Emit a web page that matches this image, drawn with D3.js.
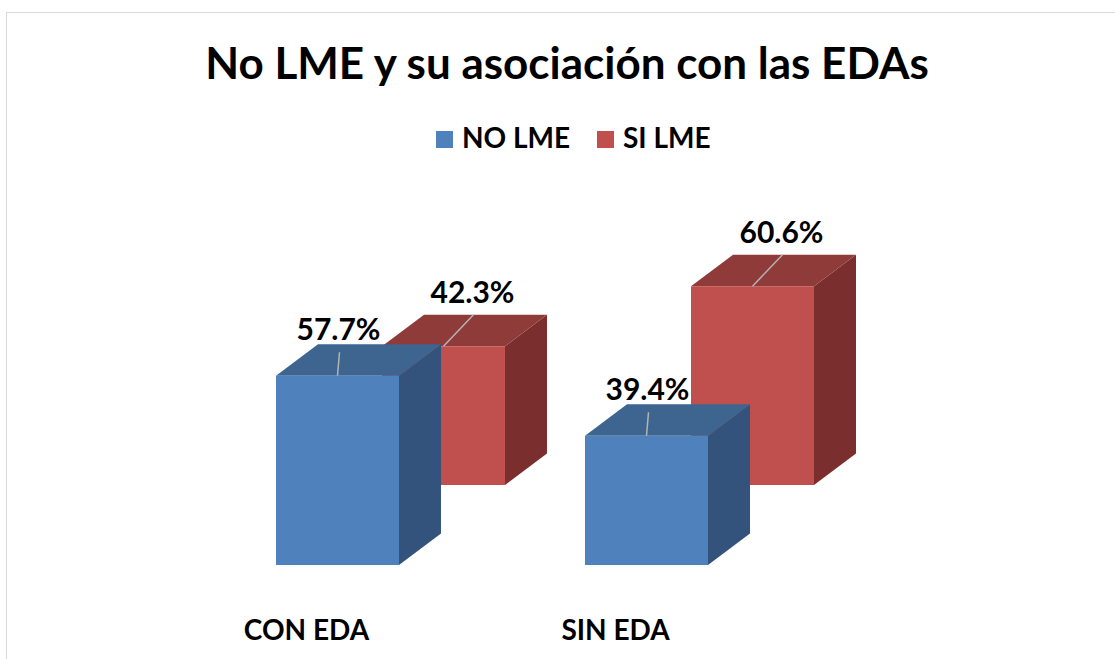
<!DOCTYPE html>
<html>
<head>
<meta charset="utf-8">
<script src="https://cdn.jsdelivr.net/npm/d3@7"></script>
<style>
  body { margin: 0; background: #fff; }
  svg { display: block; }
  text { font-family: Lato, "Open Sans", sans-serif; font-weight: 700; fill: #000; }
</style>
</head>
<body>
<svg></svg>
<script>
var width = 1115;
var height = 659;

// data
var categories = ["CON EDA", "SIN EDA"];
var series = ["NO LME", "SI LME"];
var noLme = [57.7, 39.4];
var siLme = [42.3, 60.6];

var colours = {
  "NO LME": { front: "#4f81bd", top: "#3d6590", side: "#34537c" },
  "SI LME": { front: "#c0504d", top: "#8f3b39", side: "#7a2f2e" }
};

var floorY = 565;          // baseline of the front row
var depth = [42, -31.5];   // depth of one box
var rowShift = [106, -80]; // offset from one series row to the next

var svg = d3.select("svg")
  .attr("width", width)
  .attr("height", height);

// chart border
svg.append("rect")
  .attr("x", 6.5).attr("y", 12.5)
  .attr("width", width + 10).attr("height", height + 10)
  .attr("fill", "none")
  .attr("stroke", "#d9d9d9");

svg.append("text")
  .attr("x", 567).attr("y", 79)
  .attr("text-anchor", "middle")
  .style("font-size", "44px")
  .text("No LME y su asociación con las EDAs");

// legend
var legend = svg.append("g");
var legendX = [436, 597];
series.forEach(function(s, i){
  legend.append("rect")
    .attr("x", legendX[i]).attr("y", 131)
    .attr("width", 17).attr("height", 17)
    .attr("fill", colours[s].front);
  legend.append("text")
    .attr("x", legendX[i] + 26).attr("y", 148)
    .style("font-size", "28px")
    .text(s);
});

// scales
var x = d3.scaleBand()
  .domain(categories)
  .range([276, 708])
  .paddingInner(0.602)
  .paddingOuter(0)
  .align(0);

var y = d3.scaleLinear()
  .domain([0, 100])
  .range([0, 328]);

var row = d3.scalePoint()
  .domain(series)
  .range([0, 1]);

var rows = [
  { name: "SI LME", values: siLme },
  { name: "NO LME", values: noLme }
];

function box(g, d){
  var c = colours[d.series];
  var x0 = d.x, x1 = d.x + x.bandwidth();
  var yb = d.base, yt = d.base - y(d.value);
  var dx = depth[0], dy = depth[1];
  g.append("path")
    .attr("d", "M" + [x1, yb] + "L" + [x1 + dx, yb + dy] + "L" + [x1 + dx, yt + dy] + "L" + [x1, yt] + "Z")
    .attr("fill", c.side);
  g.append("path")
    .attr("d", "M" + [x0, yt] + "L" + [x0 + dx, yt + dy] + "L" + [x1 + dx, yt + dy] + "L" + [x1, yt] + "Z")
    .attr("fill", c.top);
  g.append("rect")
    .attr("x", x0).attr("y", yt)
    .attr("width", x.bandwidth()).attr("height", y(d.value))
    .attr("fill", c.front);
}

function bars(r){
  var k = row(r.name);
  return categories.map(function(cat, i){
    return {
      series: r.name,
      value: r.values[i],
      x: x(cat) + k * rowShift[0],
      base: floorY + k * rowShift[1]
    };
  });
}

var plot = svg.append("g");

// back row: SI LME
var back = bars(rows[0]);
back.forEach(function(d){ box(plot.append("g"), d); });
back.forEach(function(d){
  var cx = d.x + x.bandwidth() / 2;
  var top = d.base - y(d.value);
  plot.append("line")
    .attr("x1", cx).attr("y1", top)
    .attr("x2", cx + 30).attr("y2", top + depth[1])
    .attr("stroke", "#b4b4b4").attr("stroke-width", 1.5);
  plot.append("text")
    .attr("x", cx + 29).attr("y", top + depth[1] - 12)
    .attr("text-anchor", "middle")
    .style("font-size", "30px")
    .text(d.value.toFixed(1) + "%");
});

// front row: NO LME
var front = bars(rows[1]);
front.forEach(function(d){
  var cx = d.x + x.bandwidth() / 2;
  var top = d.base - y(d.value);
  plot.append("text")
    .attr("x", cx + 1).attr("y", top + depth[1] - 4)
    .attr("text-anchor", "middle")
    .style("font-size", "30px")
    .text(d.value.toFixed(1) + "%");
});
front.forEach(function(d){ box(plot.append("g"), d); });
front.forEach(function(d){
  var cx = d.x + x.bandwidth() / 2;
  var top = d.base - y(d.value);
  plot.append("line")
    .attr("x1", cx).attr("y1", top)
    .attr("x2", cx + 2).attr("y2", top + depth[1] + 8)
    .attr("stroke", "#b4b4b4").attr("stroke-width", 1.5);
});

// category labels
categories.forEach(function(cat){
  svg.append("text")
    .attr("x", x(cat) + x.bandwidth() / 2 - 31).attr("y", 640)
    .attr("text-anchor", "middle")
    .style("font-size", "28px")
    .text(cat);
});
</script>
</body>
</html>
